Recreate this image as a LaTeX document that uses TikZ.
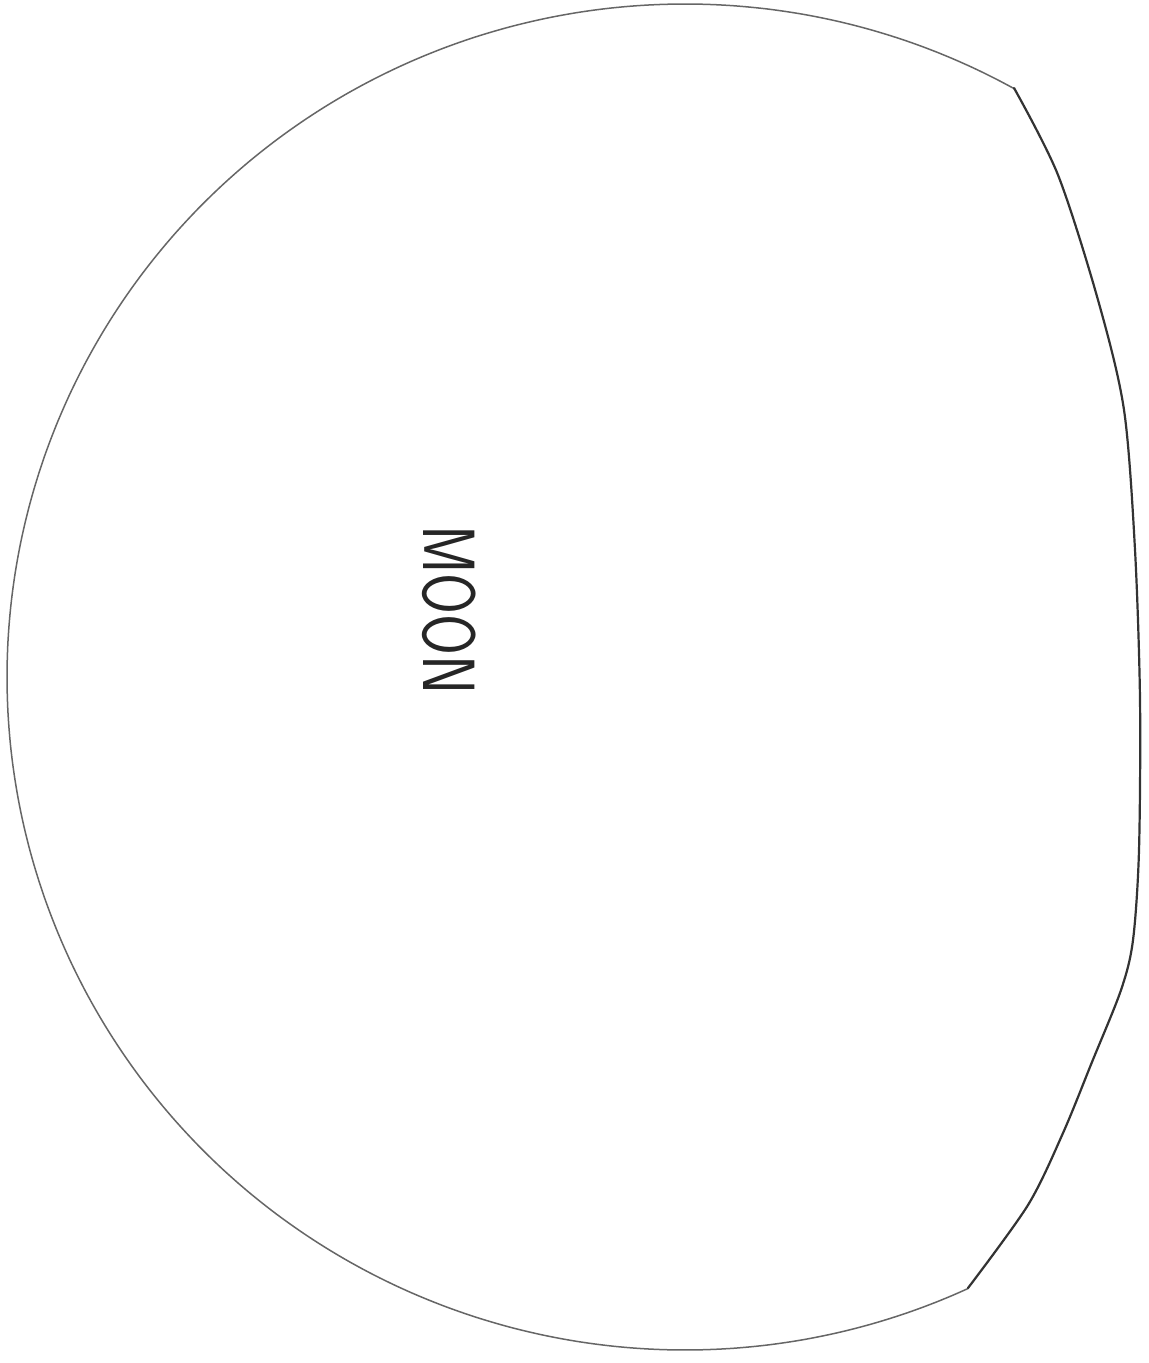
\documentclass[tikz,border=0pt]{standalone}
\begin{document}
\begin{tikzpicture}[x=0.5pt,y=-0.5pt,
  pencil/.style={draw=black!60,line width=0.75pt,line join=round,line cap=round},
  pencildark/.style={draw=black!80,line width=1.1pt,line join=round,line cap=round},
  label/.style={font=\sffamily\fontsize{37}{37}\selectfont,text=black!85,inner sep=0pt}]
\useasboundingbox[fill=white] (0,0) rectangle (1149,1363);
% rounded outline (bottom, left, top): an elliptic arc
\draw[pencil] plot[domain=65.3:299.1,samples=160,smooth]
  ({685+678*cos(\x)},{677+673*sin(\x)});
% flattened right side
\draw[pencildark] plot[smooth,tension=0.5] coordinates {
  (1014,88) (1058,175) (1098,300) (1124,410) (1135,550) (1140,700)
  (1139,850) (1133,940) (1121,990) (1092,1062) (1063,1133) (1028,1205)
  (968,1288)};
\node[label,rotate=-90] (moon) at (449,610) {\scalebox{0.8}[1]{MOON}};
\end{tikzpicture}
\end{document}
